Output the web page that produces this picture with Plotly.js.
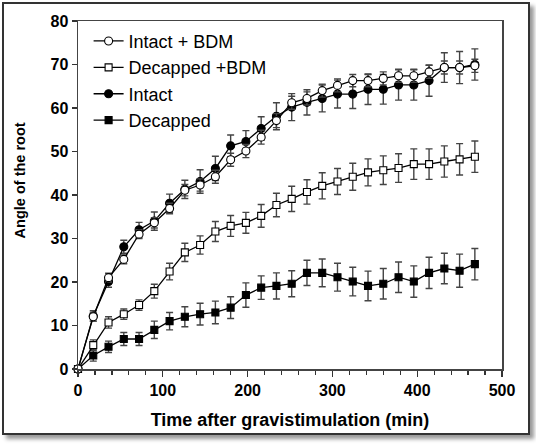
<!DOCTYPE html>
<html><head><meta charset="utf-8">
<script src="https://cdn.plot.ly/plotly-3.0.1.min.js"></script>
<style>
html,body{margin:0;padding:0;background:#fff;}
#frame{position:absolute;left:2px;top:2px;width:524px;height:429px;border:2px solid #333;box-shadow:4px 4px 4px #999;background:#fff;}
#chart{width:524px;height:429px;}
</style></head>
<body><div id="frame"><div id="chart"></div></div>
<script>
const times = [0,18,36,54,72,90,108,126,144,162,180,198,216,234,252,270,288,306,324,342,360,378,396,414,432,450,468];
const intactBDM = [0,12,21,25.2,31,33.6,36.9,41.1,42.3,44.2,48.1,50.1,53.3,57.1,61.2,62.2,64,65.2,66.3,66.3,66.8,67.4,67.4,68.3,69.3,69.3,69.7];
const intactBDMErr = [0,1,1,1,1,1.2,1.2,1.3,1.4,1.5,1.5,1.5,1.6,1.6,1.5,1.5,1.5,1.5,1.4,1.4,1.5,1.5,1.5,1.5,1.5,1.5,1.5];
const decapBDM = [0,5.5,10.7,12.6,14.7,17.9,22.4,26.8,28.5,31.6,32.9,33.6,35.2,37.7,39.1,40.7,42.1,43.1,44.2,45.2,45.7,46.2,47.1,47.1,47.7,48.2,48.8];
const decapBDMErr = [0,1.2,1.3,1.2,1.2,1.6,1.9,2.1,2.1,2.3,2.4,2.4,2.6,2.7,2.9,2.8,3,3,3.1,3.1,3.3,3.3,3.5,3.5,3.6,3.6,3.6];
const intact = [0,12.2,20.1,28.1,32,34,38.1,41.3,43.1,46.1,51.3,52.3,55.3,58.1,60.2,61.3,62.2,63.2,63.2,64.3,64.3,65.3,65.3,66.3,69.3,69.3,70];
const intactErr = [0,1.2,1.3,1.5,1.7,2.1,2.1,2.1,2.7,2.8,2.5,2.5,2.7,3.1,3.1,2.9,3.1,3.2,3.3,3.5,3.4,3.5,3.5,3.6,3.4,3.7,3.6];
const decap = [0,3.1,5.1,6.9,6.9,9,11,12,12.6,13,14.1,17,18.7,19.1,19.6,22.1,22.1,21.1,20.1,19.1,19.6,21.1,20.1,22.1,23.1,22.6,24.1];
const decapErr = [0,1.3,1.3,1.5,1.5,2,2,2.3,2.5,2.6,2.5,2.8,2.7,3,3,2.9,3.2,3.2,3.3,3.4,3.5,3.5,3.6,3.6,3.5,3.8,3.6];

const FONT = 'Liberation Sans, Arial, sans-serif';
function tr(name, y, err, symbol, filled, rank){
  return {
    x: times, y: y, name: name, type: 'scatter', mode: 'lines+markers',
    legendrank: rank, cliponaxis: false,
    line: {color: '#000', width: 1.3},
    marker: {symbol: symbol, size: symbol === 'square' ? 7 : 8,
             color: filled ? '#000' : '#fff',
             line: {color: '#000', width: 1.1}},
    error_y: {type: 'data', array: err, visible: true, color: '#444', thickness: 1.4, width: 3.5}
  };
}
const data = [
  tr('Decapped', decap, decapErr, 'square', true, 4),
  tr('Intact', intact, intactErr, 'circle', true, 3),
  tr('Decapped +BDM', decapBDM, decapBDMErr, 'square', false, 2),
  tr('Intact + BDM', intactBDM, intactBDMErr, 'circle', false, 1)
];

const layout = {
  width: 524, height: 429,
  margin: {l: 74, r: 26, t: 17, b: 64},
  paper_bgcolor: '#fff', plot_bgcolor: '#fff',
  font: {family: FONT, color: '#000'},
  showlegend: true,
  legend: {x: 0.025, y: 0.995, xanchor: 'left', yanchor: 'top', bgcolor: 'rgba(0,0,0,0)',
           font: {family: FONT, size: 18, color: '#000'}, tracegroupgap: 0, itemwidth: 30},
  xaxis: {
    range: [0, 500], tickvals: [0,100,200,300,400,500], ticktext: ['0','100','200','300','400','500'],
    ticks: 'outside', ticklen: 6, tickwidth: 1.3, tickcolor: '#333',
    minor: {dtick: 20, ticks: 'outside', ticklen: 4, tickwidth: 1.2, tickcolor: '#333', showgrid: false},
    showline: true, linecolor: '#444', linewidth: 1.5, mirror: true,
    showgrid: false, zeroline: false,
    tickfont: {family: FONT, size: 16, weight: 'bold', color: '#000'},
    title: {text: 'Time after gravistimulation (min)', font: {family: FONT, size: 18, weight: 'bold', color: '#000'}, standoff: 15}
  },
  yaxis: {
    range: [0, 80], tickvals: [0,10,20,30,40,50,60,70,80], ticktext: ['0','10','20','30','40','50','60','70','80'],
    ticks: 'outside', ticklen: 5, tickwidth: 1.3, tickcolor: '#333',
    showline: true, linecolor: '#444', linewidth: 1.5, mirror: true,
    showgrid: false, zeroline: false,
    tickfont: {family: FONT, size: 16, weight: 'bold', color: '#000'}
  },
  annotations: [{
    text: 'Angle of the root', textangle: -90, showarrow: false,
    xref: 'paper', yref: 'paper', x: 0, y: 0.542, xanchor: 'center', yanchor: 'middle', xshift: -58,
    font: {family: FONT, size: 14.5, weight: 'bold', color: '#000'}
  }]
};
Plotly.newPlot('chart', data, layout, {displayModeBar: false, staticPlot: true});
</script>
</body></html>
